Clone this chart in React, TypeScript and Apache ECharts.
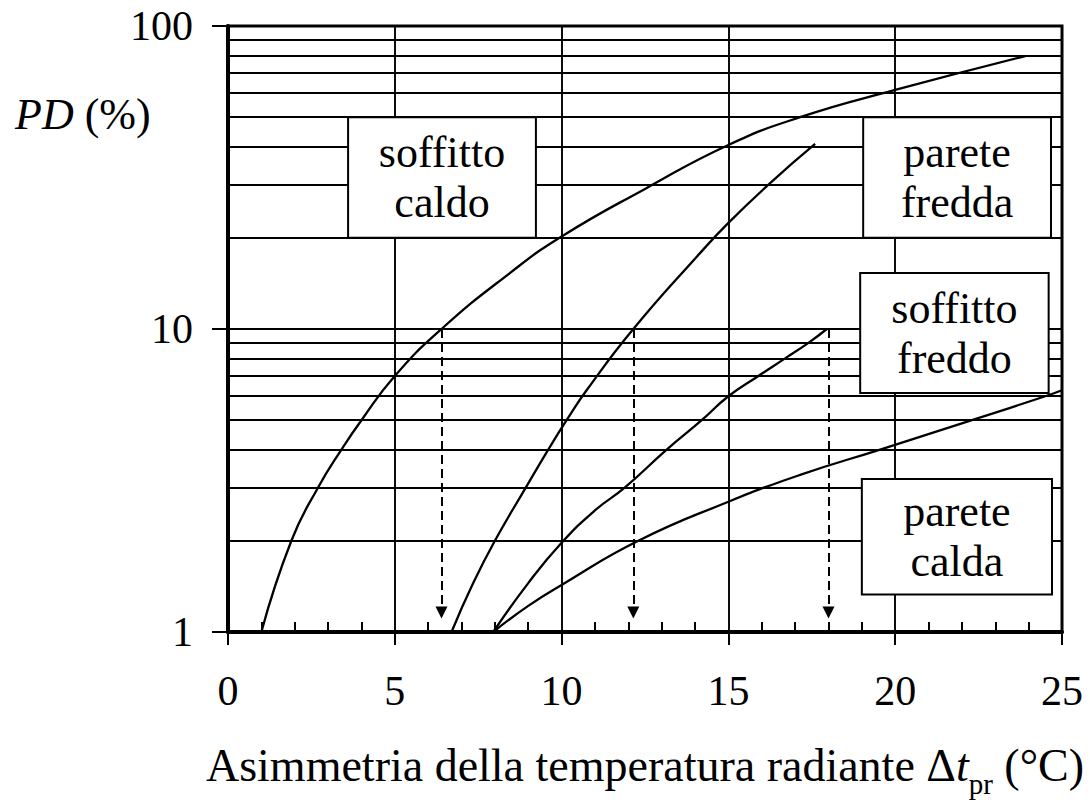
import React, { useEffect, useRef } from "react";
import * as echarts from "echarts";

const FONT = '"Liberation Serif", "Times New Roman", serif';

// Δt_pr (°C) and PD (%) along each curve
const warmCeilingX = [1.0, 1.9, 2.7, 3.4, 4.0, 5.0, 6.4, 8.45, 10, 12.5, 15, 17.15, 20, 23.9];
const warmCeilingY = [1.0, 2.0, 3.0, 4.0, 5.0, 7.0, 10, 15.3, 20.2, 29, 40.5, 50, 61.5, 79.6];

const coolWallX = [6.7, 7.35, 8.0, 8.93, 9.6, 10.15, 10.76, 12.15, 14.15, 15, 16.25, 17.6];
const coolWallY = [1.0, 1.45, 2.0, 3.0, 4.0, 5.0, 6.3, 10, 17.8, 22.4, 30.3, 40.8];

const coolCeilingX = [7.95, 9.0, 10, 11.0, 11.9, 13.15, 14.2, 15.0, 15.9, 16.7, 17.4, 17.95];
const coolCeilingY = [1.0, 1.45, 1.97, 2.52, 3.0, 4.0, 5.0, 6.0, 7.0, 8.0, 9.0, 10.0];

const warmWallX = [7.95, 9.0, 10, 12.3, 15, 17.15, 19.55, 22.3, 24.5, 25];
const warmWallY = [1.0, 1.22, 1.43, 2.0, 2.69, 3.3, 4.0, 5.0, 6.0, 6.28];

// Dashed read-off lines: Δt_pr where PD reaches 10 %
const readOffX = [6.4, 12.15, 18.0];
const readOffTop = 10;
const readOffBottom = 1.16;

// Minor horizontal grid values on the log scale
const minorGridY = [2, 3, 4, 5, 6, 7, 8, 9, 20, 30, 40, 50, 60, 70, 80, 90];

// Labelled boxes, corners in data units
const boxLabels = ["soffitto\ncaldo", "parete\nfredda", "soffitto\nfreddo", "parete\ncalda"];
const boxX0 = [3.6, 19.04, 18.95, 19.0];
const boxX1 = [9.23, 24.67, 24.6, 24.7];
const boxYTop = [50, 50, 15.3, 3.2];
const boxYBottom = [20, 20, 6.15, 1.33];

const xTicks = { min: 0, max: 25, interval: 5 };
const yRange = { min: 1, max: 100 };

const zip = (xs: number[], ys: number[]) => xs.map((x, i) => [x, ys[i]]);

const curve = (name: string, xs: number[], ys: number[]) => ({
  name,
  type: "line",
  z: 5,
  data: zip(xs, ys),
  smooth: 0.5,
  showSymbol: false,
  symbol: "none",
  silent: true,
  lineStyle: { color: "#000", width: 2.3 },
});

const textBase = { fontFamily: FONT, color: "#000" };

const option = {
  animation: false,
  backgroundColor: "#fff",
  grid: {
    left: 228,
    right: 28,
    top: 26,
    bottom: 168,
    show: true,
    borderColor: "#000",
    borderWidth: 3,
    backgroundColor: "transparent",
    outerBoundsMode: "none",
  },
  xAxis: [
    {
      type: "value",
      ...xTicks,
      position: "bottom",
      axisLine: { show: true, lineStyle: { color: "#000", width: 4 } },
      axisTick: { show: true, length: 13, lineStyle: { color: "#000", width: 2 } },
      axisLabel: { ...textBase, fontSize: 42, margin: 38 },
      splitLine: { show: true, lineStyle: { color: "#000", width: 1.9 } },
      name: "{a|Asimmetria della temperatura radiante Δ}{i|t}{s|pr}{a| (°C)}",
      nameLocation: "middle",
      nameGap: 110,
      nameTextStyle: {
        rich: {
          a: { ...textBase, fontSize: 46, lineHeight: 56, verticalAlign: "top" },
          i: { ...textBase, fontSize: 46, fontStyle: "italic", lineHeight: 56, verticalAlign: "top" },
          s: { ...textBase, fontSize: 29, lineHeight: 30, verticalAlign: "bottom" },
        },
      },
    },
    {
      type: "value",
      ...xTicks,
      position: "bottom",
      axisLine: { show: false },
      axisLabel: { show: false },
      splitLine: { show: false },
      axisTick: { show: false, inside: true },
      minorTick: { show: true, splitNumber: 5, length: 10, lineStyle: { color: "#000", width: 2 } },
    },
  ],
  yAxis: {
    type: "log",
    logBase: 10,
    ...yRange,
    axisLine: { show: true, lineStyle: { color: "#000", width: 4 } },
    axisTick: { show: true, length: 16, lineStyle: { color: "#000", width: 2 } },
    axisLabel: { ...textBase, fontSize: 42, margin: 35 },
    splitLine: { show: true, lineStyle: { color: "#000", width: 1.9 } },
  },
  graphic: [
    {
      type: "text",
      left: 15,
      top: 92,
      style: {
        text: "{i|PD}{r| (%)}",
        rich: {
          i: { fontFamily: FONT, fontStyle: "italic", fontSize: 44, fill: "#000" },
          r: { fontFamily: FONT, fontSize: 44, fill: "#000" },
        },
      },
    },
  ],
  series: [
    {
      name: "grid",
      type: "line",
      z: 1,
      data: [],
      silent: true,
      markLine: {
        z: 1,
        silent: true,
        symbol: "none",
        label: { show: false },
        lineStyle: { color: "#000", width: 1.9, type: "solid" },
        data: minorGridY.map((v) => ({ yAxis: v })),
      },
    },
    {
      name: "boxes",
      type: "line",
      z: 3,
      data: [],
      silent: true,
      markArea: {
        z: 3,
        silent: true,
        itemStyle: { color: "#fff", opacity: 1, borderColor: "#000", borderWidth: 2 },
        label: {
          show: true,
          position: "inside",
          ...textBase,
          fontSize: 44,
          lineHeight: 50,
          align: "center",
          verticalAlign: "middle",
        },
        data: boxLabels.map((name, i) => [
          { name, coord: [boxX0[i], boxYTop[i]] },
          { coord: [boxX1[i], boxYBottom[i]] },
        ]),
      },
    },
    curve("soffitto caldo", warmCeilingX, warmCeilingY),
    curve("parete fredda", coolWallX, coolWallY),
    curve("soffitto freddo", coolCeilingX, coolCeilingY),
    curve("parete calda", warmWallX, warmWallY),
    {
      name: "read-off",
      type: "line",
      z: 4,
      data: [],
      silent: true,
      markLine: {
        z: 4,
        silent: true,
        symbol: ["none", "triangle"],
        symbolSize: [12, 12],
        label: { show: false },
        lineStyle: { color: "#000", width: 2, type: [9, 5] },
        data: readOffX.map((x) => [
          { coord: [x, readOffTop] },
          { coord: [x, readOffBottom] },
        ]),
      },
    },
  ],
};

export default function App() {
  const ref = useRef<HTMLDivElement>(null);
  useEffect(() => {
    const chart = echarts.init(ref.current!, null, { renderer: "svg" });
    chart.setOption(option as any);
    return () => chart.dispose();
  }, []);
  return (
    <div
      ref={ref}
      style={{ position: "fixed", left: 0, top: 0, width: 1090, height: 800, background: "#fff" }}
    />
  );
}
